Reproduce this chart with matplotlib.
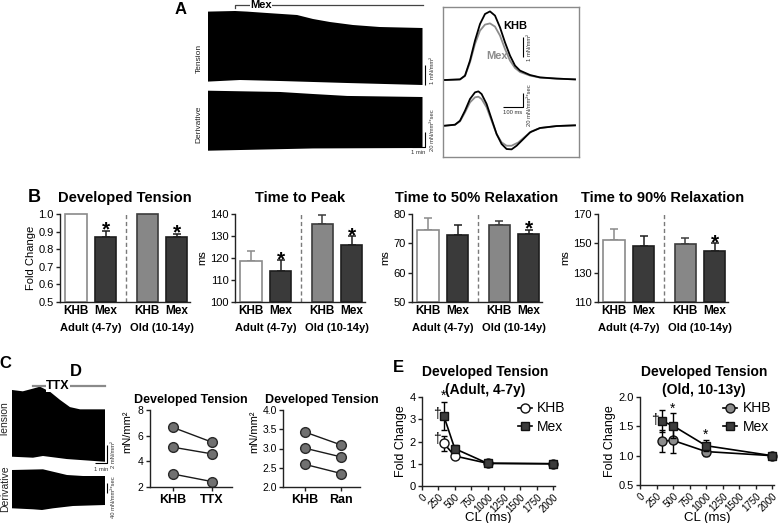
import matplotlib
matplotlib.use('Agg')
import matplotlib.pyplot as plt
from matplotlib.lines import Line2D

plt.rcParams['font.family'] = ['Liberation Sans', 'DejaVu Sans']
plt.rcParams['axes.linewidth'] = 1.0

W, H = 781, 523
fig = plt.figure(figsize=(W / 100, H / 100), dpi=100)

# ======================= DATA =======================
# Panel A - envelope of raw recording (time in min)
a_t_top = [0, 2.08, 3.0, 4.54, 6.85, 8.08, 9.38, 11.15, 13.2, 16.5]
a_tens_top = [3.67, 3.70, 3.67, 3.60, 3.50, 3.30, 3.15, 3.00, 2.90, 2.85]
a_t_bot = [0, 2.46, 5.54, 10.7, 16.5]
a_tens_bot = [0.17, 0.25, 0.20, 0.10, 0.0]
a_dt_t_top = [0, 5.54, 8.08, 10.7, 16.5]
a_deriv_top = [45.7, 44.0, 41.3, 38.7, 37.3]
a_dt_t_bot = [0, 8.08, 16.5]
a_deriv_bot = [-34.3, -31.3, -30.7]
a_mex_on, a_mex_off = 2.08, 16.5

# Panel A inset - averaged twitch (ms, mN/mm2) and derivative
tw_t = [0, 75, 100, 125, 150, 175, 200, 225, 250, 275, 300, 325, 350, 375, 425, 475, 558, 650]
tw_khb = [0, 0.03, 0.22, 0.97, 1.97, 2.80, 3.30, 3.43, 3.22, 2.63, 1.88, 1.22, 0.72, 0.47, 0.25, 0.13, 0.07, 0.03]
tw_mex = [0, 0.03, 0.20, 0.88, 1.80, 2.47, 2.77, 2.83, 2.67, 2.22, 1.55, 0.97, 0.60, 0.40, 0.22, 0.12, 0.07, 0.03]
dw_t_khb = [0, 50, 75, 100, 125, 150, 167, 183, 208, 233, 258, 283, 308, 333, 358, 392, 425, 475, 558, 650]
dw_khb = [0, 1.4, 7.1, 21.4, 38.1, 47.6, 49.0, 45.2, 31.0, 9.5, -11.9, -26.2, -33.3, -33.8, -28.6, -19.0, -9.5, -3.3, -0.5, 0.5]
dw_t_mex = [0, 50, 75, 100, 125, 150, 167, 183, 208, 233, 258, 283, 308, 333, 367, 400, 433, 475, 558, 650]
dw_mex = [0, 1.4, 6.2, 19.0, 33.3, 40.5, 41.4, 38.1, 26.2, 7.1, -11.9, -23.8, -28.6, -28.6, -23.8, -15.7, -8.1, -3.3, -0.5, 0.5]

# Panel B
b_groups = ['KHB', 'Mex', 'KHB', 'Mex']
b_ages = ['Adult (4-7y)', 'Old (10-14y)']
dt_mean = [1.0, 0.872, 1.0, 0.869]
dt_err = [0, 0.033, 0, 0.020]
ttp_mean = [118.5, 114.3, 135.4, 125.7]
ttp_err = [4.8, 4.6, 4.2, 4.1]
t50_mean = [74.7, 73.0, 76.3, 73.1]
t50_err = [4.0, 3.1, 1.4, 1.6]
t90_mean = [152.0, 148.0, 149.5, 145.0]
t90_err = [8.0, 7.0, 4.0, 5.0]
dt_sig = [False, True, False, True]
ttp_sig = [False, True, False, True]
t50_sig = [False, False, False, True]
t90_sig = [False, False, False, True]

# Panel C - envelope of raw recording with TTX (time in min)
c_t_top = [0, 0.9, 1.75, 2.33, 3.17, 4.0, 4.83, 5.67, 7.75]
c_tens_top = [8.0, 7.85, 8.15, 8.37, 7.8, 6.9, 6.1, 5.85, 5.85]
c_t_bot = [0, 1.75, 2.58, 4.58, 7.75]
c_tens_bot = [0.59, 0.48, 0.67, 0.33, 0.03]
c_dt_t_top = [0, 2.58, 3.42, 4.58, 5.92, 7.75]
c_deriv_top = [80, 82.8, 73.2, 60, 56, 56]
c_dt_t_bot = [0, 1.75, 2.5, 3.42, 5.08, 7.75]
c_deriv_bot = [-73.2, -77.2, -80, -73.2, -64, -60]
c_ttx_on, c_ttx_off = 1.75, 7.75

# Panel D
d1_conds = ['KHB', 'TTX']
d1_khb = [6.64, 5.10, 3.01]
d1_ttx = [5.49, 4.58, 2.42]
d2_conds = ['KHB', 'Ran']
d2_khb = [3.43, 3.01, 2.59]
d2_ran = [3.09, 2.78, 2.35]

# Panel E
e_cl = [333, 500, 1000, 2000]
e_ad_khb = [1.92, 1.35, 1.02, 1.0]
e_ad_khb_err = [0.33, 0.05, 0.03, 0.0]
e_ad_mex = [3.15, 1.68, 1.02, 1.0]
e_ad_mex_err = [0.62, 0.17, 0.04, 0.0]
e_old_khb = [1.25, 1.26, 1.07, 1.0]
e_old_khb_err = [0.18, 0.21, 0.08, 0.0]
e_old_mex = [1.59, 1.51, 1.17, 1.0]
e_old_mex_err = [0.18, 0.21, 0.09, 0.0]


# ======================= HELPERS =======================
def ax_px(l, t, r, b):
    return fig.add_axes([l / W, 1 - b / H, (r - l) / W, (b - t) / H])


def ftext(x, y, s, **kw):
    fig.text(x / W, 1 - y / H, s, **kw)


def blank(ax):
    ax.set_axis_off()
    ax.patch.set_alpha(0)


def style_axes(ax, fs=8):
    for s in ['top', 'right']:
        ax.spines[s].set_visible(False)
    for s in ['left', 'bottom']:
        ax.spines[s].set_color('#222222')
        ax.spines[s].set_linewidth(1.0)
    ax.tick_params(direction='out', length=3, width=1, color='#222222',
                   labelsize=fs, pad=1.5)
    ax.patch.set_alpha(0)


SB = dict(color='black', lw=0.8, clip_on=False, solid_capstyle='butt')
SBT = dict(fontsize=4.2, color='#333333', clip_on=False)

# ======================= PANEL A =======================
ftext(181, 9, 'A', fontsize=12, fontweight='bold', ha='center', va='center')
ftext(199, 58, 'Tension', fontsize=6, rotation=90, ha='center', va='center', color='#222')
ftext(199, 124, 'Derivative', fontsize=6, rotation=90, ha='center', va='center', color='#222')

axa = ax_px(208, 2, 440, 88)
blank(axa)
axa.set_xlim(0, (440 - 208) / 13)
axa.set_ylim(-0.15, 4.15)
axa.fill(a_t_top + a_t_bot[::-1], a_tens_top + a_tens_bot[::-1], color='black', lw=0)
axa.plot([a_mex_on, a_mex_on, a_mex_off], [3.85, 4.0, 4.0], color='#444', lw=0.9, clip_on=False)
axa.text(4.08, 4.0, 'Mex', fontsize=8, fontweight='bold', ha='center', va='center',
         bbox=dict(facecolor='white', edgecolor='none', pad=0.3))
axa.plot([16.7, 16.7], [0, 1], **SB)
axa.text(17.05, 0.75, '1 mN/mm²', rotation=90, ha='left', va='center', **SBT)

axd = ax_px(208, 88, 440, 160)
blank(axd)
axd.set_xlim(0, (440 - 208) / 13)
axd.set_ylim(-46.7, 49.3)
axd.fill(a_dt_t_top + a_dt_t_bot[::-1], a_deriv_top + a_deriv_bot[::-1], color='black', lw=0)
axd.plot([15.7, 16.7, 16.7], [-29.3, -29.3, -9.3], **SB)
axd.text(16.2, -33, '1 min', ha='center', va='top', **SBT)
axd.text(17.05, -6.7, '20 mN/mm²*sec', rotation=90, ha='left', va='center', **SBT)

# inset
axbox = ax_px(443, 7, 579, 157)
axbox.set_xticks([])
axbox.set_yticks([])
for s in axbox.spines.values():
    s.set_color('#8a8a8a')
    s.set_linewidth(1.0)

axi = ax_px(443, 7, 579, 100)
blank(axi)
axi.set_xlim(-10, 670)
axi.set_ylim(-1.0, 3.65)
axi.plot(tw_t, tw_mex, color='#8c8c8c', lw=1.3)
axi.plot(tw_t, tw_khb, color='black', lw=1.3)
axi.text(290, 2.7, 'KHB', fontsize=8, fontweight='bold', ha='left', va='center')
axi.text(205, 1.2, 'Mex', fontsize=8, fontweight='bold', ha='left', va='center', color='#8c8c8c')
axi.plot([390, 390], [1.15, 2.15], **SB)
axi.text(412, 1.65, '1 mN/mm²', rotation=90, ha='left', va='center', **SBT)

axj = ax_px(443, 85, 579, 157)
blank(axj)
axj.set_xlim(-10, 670)
axj.set_ylim(-44.7, 58.1)
axj.plot(dw_t_mex, dw_mex, color='#8c8c8c', lw=1.3)
axj.plot(dw_t_khb, dw_khb, color='black', lw=1.3)
axj.plot([290, 390, 390], [26.7, 26.7, 46.7], **SB)
axj.text(340, 22, '100 ms', ha='center', va='top', **SBT)
axj.text(412, 30, '20 mN/mm²*sec', rotation=90, ha='left', va='center', **SBT)

# ======================= PANEL B =======================
ftext(34, 198, 'B', fontsize=13, fontweight='bold', ha='center', va='center')

b_pos = [0, 1, 2.4, 3.4]
b_fill = ['white', '#3a3a3a', '#878787', '#3a3a3a']
b_edge = ['#8a8a8a', '#1e1e1e', '#3c3c3c', '#1e1e1e']
b_ecol = ['#8a8a8a', '#1e1e1e', '#3c3c3c', '#1e1e1e']


def bar_panel(left, title, means, errs, sig, ylim, yticks, ylabel, fmt):
    right = left + 130
    ax = ax_px(left, 214, right, 302)
    style_axes(ax, 8)
    for i in range(4):
        ax.bar(b_pos[i], means[i] - ylim[0], bottom=ylim[0], width=0.71,
               color=b_fill[i], edgecolor=b_edge[i], linewidth=1.2, clip_on=False, zorder=2)
        if errs[i] > 0:
            ax.errorbar(b_pos[i], means[i], yerr=[[0], [errs[i]]], fmt='none',
                        ecolor=b_ecol[i], elinewidth=1.1, capsize=3, capthick=1.1,
                        clip_on=False, zorder=1)
        if sig[i]:
            ax.annotate('*', (b_pos[i], means[i] + errs[i]), xytext=(0, -3.5),
                        textcoords='offset points', ha='center', va='baseline',
                        fontsize=15, fontweight='bold', annotation_clip=False)
    ax.axvline(1.7, color='#7a7a7a', lw=1, ls=(0, (3, 2)), zorder=0)
    ax.set_xlim(-0.54, 3.84)
    ax.set_ylim(*ylim)
    ax.set_yticks(yticks)
    ax.set_yticklabels([fmt % v for v in yticks])
    ax.set_xticks(b_pos)
    ax.set_xticklabels(b_groups, fontweight='bold', fontsize=8.5)
    ax.tick_params(axis='x', length=0, pad=2)
    ax.set_ylabel(ylabel, fontsize=8, labelpad=2)
    cx = (left + right) / 2
    ftext(cx, 198, title, fontsize=10.5, fontweight='bold', ha='center', va='center')
    for k, age in enumerate(b_ages):
        xm = (b_pos[2 * k] + b_pos[2 * k + 1]) / 2
        xpix = left + (xm + 0.54) / 4.38 * 130
        ftext(xpix, 328, age, fontsize=8, fontweight='bold', ha='center', va='center')
    return ax


bar_panel(60, 'Developed Tension', dt_mean, dt_err, dt_sig, (0.5, 1.0),
          [0.5, 0.6, 0.7, 0.8, 0.9, 1.0], 'Fold Change', '%.1f')
bar_panel(235, 'Time to Peak', ttp_mean, ttp_err, ttp_sig, (100, 140),
          [100, 110, 120, 130, 140], 'ms', '%d')
bar_panel(412, 'Time to 50% Relaxation', t50_mean, t50_err, t50_sig, (50, 80),
          [50, 60, 70, 80], 'ms', '%d')
bar_panel(598, 'Time to 90% Relaxation', t90_mean, t90_err, t90_sig, (110, 170),
          [110, 130, 150, 170], 'ms', '%d')

# ======================= PANEL C =======================
ftext(5, 363, 'C', fontsize=12, fontweight='bold', ha='center', va='center')
ftext(5, 419, 'Tension', fontsize=7.5, rotation=90, ha='center', va='center', color='#222')
ftext(5, 489, 'Derivative', fontsize=7.5, rotation=90, ha='center', va='center', color='#222')

axc = ax_px(12, 378, 118, 465)
blank(axc)
axc.set_xlim(0, (118 - 12) / 12)
axc.set_ylim(-0.33, 9.33)
axc.fill(c_t_top + c_t_bot[::-1], c_tens_top + c_tens_bot[::-1], color='black', lw=0)
axc.plot([c_ttx_on, c_ttx_off], [8.44, 8.44], color='#8a8a8a', lw=1.6, clip_on=False)
axc.text(3.83, 8.44, 'TTX', fontsize=9, fontweight='bold', ha='center', va='center',
         bbox=dict(facecolor='white', edgecolor='none', pad=0.2))
axc.plot([6.92, 7.92, 7.92], [-0.1, -0.1, 1.9], **SB)
axc.text(7.42, -0.5, '1 min', ha='center', va='top', **SBT)
axc.text(8.25, 0.8, '2 mN/mm²', rotation=90, ha='left', va='center', **SBT)

axc2 = ax_px(12, 465, 118, 518)
blank(axc2)
axc2.set_xlim(0, (118 - 12) / 12)
axc2.set_ylim(-112, 100)
axc2.fill(c_dt_t_top + c_dt_t_bot[::-1], c_deriv_top + c_deriv_bot[::-1], color='black', lw=0)
axc2.plot([7.92, 7.92], [-12, 28], **SB)
axc2.text(8.25, -28, '40 mN/mm²*sec', rotation=90, ha='left', va='center', **SBT)

# ======================= PANEL D =======================
ftext(76, 371, 'D', fontsize=12, fontweight='bold', ha='center', va='center')


def pair_panel(l, r, title, conds, before, after, ylim, yticks, fmt, lab_x):
    ax = ax_px(l, 410, r, 487)
    style_axes(ax, 7.5)
    for a, b in zip(before, after):
        ax.plot([0, 1], [a, b], color='#1a1a1a', lw=1.0, zorder=1)
    ax.plot([0] * len(before), before, 'o', ms=7, mfc='#707070', mec='#2a2a2a', mew=1.0,
            zorder=2, clip_on=False)
    ax.plot([1] * len(after), after, 'o', ms=7, mfc='#707070', mec='#2a2a2a', mew=1.0,
            zorder=2, clip_on=False)
    ax.set_xlim(-0.59, 1.51)
    ax.set_ylim(*ylim)
    ax.set_yticks(yticks)
    ax.set_yticklabels([fmt % v for v in yticks])
    ax.set_xticks([0, 1])
    ax.set_xticklabels(conds, fontweight='bold', fontsize=9)
    ax.tick_params(axis='x', length=3, pad=2)
    ax.set_ylabel('mN/mm²', fontsize=8)
    ax.yaxis.set_label_coords((lab_x - l) / (r - l), 0.72)
    ftext((l + r) / 2, 400, title, fontsize=9, fontweight='bold', ha='center', va='center')
    return ax


pair_panel(150, 232, 'Developed Tension', d1_conds, d1_khb, d1_ttx, (2, 8), [2, 4, 6, 8], '%d',
           132)
pair_panel(283, 360, 'Developed Tension', d2_conds, d2_khb, d2_ran, (2.0, 4.0),
           [2.0, 2.5, 3.0, 3.5, 4.0], '%.1f', 259)

# ======================= PANEL E =======================
ftext(398, 368, 'E', fontsize=12, fontweight='bold', ha='center', va='center')


def cl_panel(l, r, b, title1, title2, khb, khb_err, mex, mex_err, khb_fc, ylim, yticks, fmt,
             leg_xy, notes):
    ax = ax_px(l, 397, r, b)
    style_axes(ax, 8)
    ax.errorbar(e_cl, khb, yerr=khb_err, color='black', lw=1.2, elinewidth=1, capsize=2.5,
                capthick=1, marker='o', ms=6.5, mfc=khb_fc, mec='#111', mew=1, clip_on=False,
                zorder=3)
    ax.errorbar(e_cl, mex, yerr=mex_err, color='black', lw=1.2, elinewidth=1, capsize=2.5,
                capthick=1, marker='s', ms=6, mfc='#3c3c3c', mec='#111', mew=1, clip_on=False,
                zorder=4)
    ax.set_xlim(0, 2030)
    ax.set_ylim(*ylim)
    ax.set_xticks(list(range(0, 2001, 250)))
    ax.set_xticklabels([str(v) for v in range(0, 2001, 250)], rotation=45, ha='right',
                       rotation_mode='anchor', fontsize=7)
    ax.set_yticks(yticks)
    ax.set_yticklabels([fmt % v for v in yticks])
    ax.set_xlabel('CL (ms)', fontsize=9.5)
    ax.xaxis.set_label_coords(0.5, -(512 - b) / (b - 397))
    ax.set_ylabel('Fold Change', fontsize=9, labelpad=2)
    for (x, y, s) in notes:
        ax.text(x, y, s, fontsize=10, ha='center', va='center', clip_on=False)
    hk = Line2D([], [], color='black', lw=1.2, marker='o', ms=6.5, mfc=khb_fc, mec='#111')
    hm = Line2D([], [], color='black', lw=1.2, marker='s', ms=6, mfc='#3c3c3c', mec='#111')
    ax.legend([hk, hm], ['KHB', 'Mex'], loc='upper left', bbox_to_anchor=leg_xy,
              frameon=False, fontsize=10, handlelength=1.0, handletextpad=0.4,
              labelspacing=0.3, borderpad=0, borderaxespad=0)
    cx = (l + r) / 2
    ftext(cx - 3, 372, title1, fontsize=10, fontweight='bold', ha='center', va='center')
    ftext(cx - 3, 390, title2, fontsize=10, fontweight='bold', ha='center', va='center')
    return ax


cl_panel(422, 555, 486, 'Developed Tension', '(Adult, 4-7y)', e_ad_khb, e_ad_khb_err,
         e_ad_mex, e_ad_mex_err, 'white', (0, 4), [0, 1, 2, 3, 4], '%d', (0.72, 0.95),
         [(230, 3.22, '†'), (230, 2.1, '†'), (333, 4.05, '*')])
cl_panel(640, 774, 485, 'Developed Tension', '(Old, 10-13y)', e_old_khb, e_old_khb_err,
         e_old_mex, e_old_mex_err, '#8c8c8c', (0.5, 2.0), [0.5, 1.0, 1.5, 2.0], '%.1f',
         (0.62, 0.95),
         [(230, 1.6, '†'), (500, 1.80, '*'), (1000, 1.36, '*')])

fig.savefig('out.png', dpi=100)
